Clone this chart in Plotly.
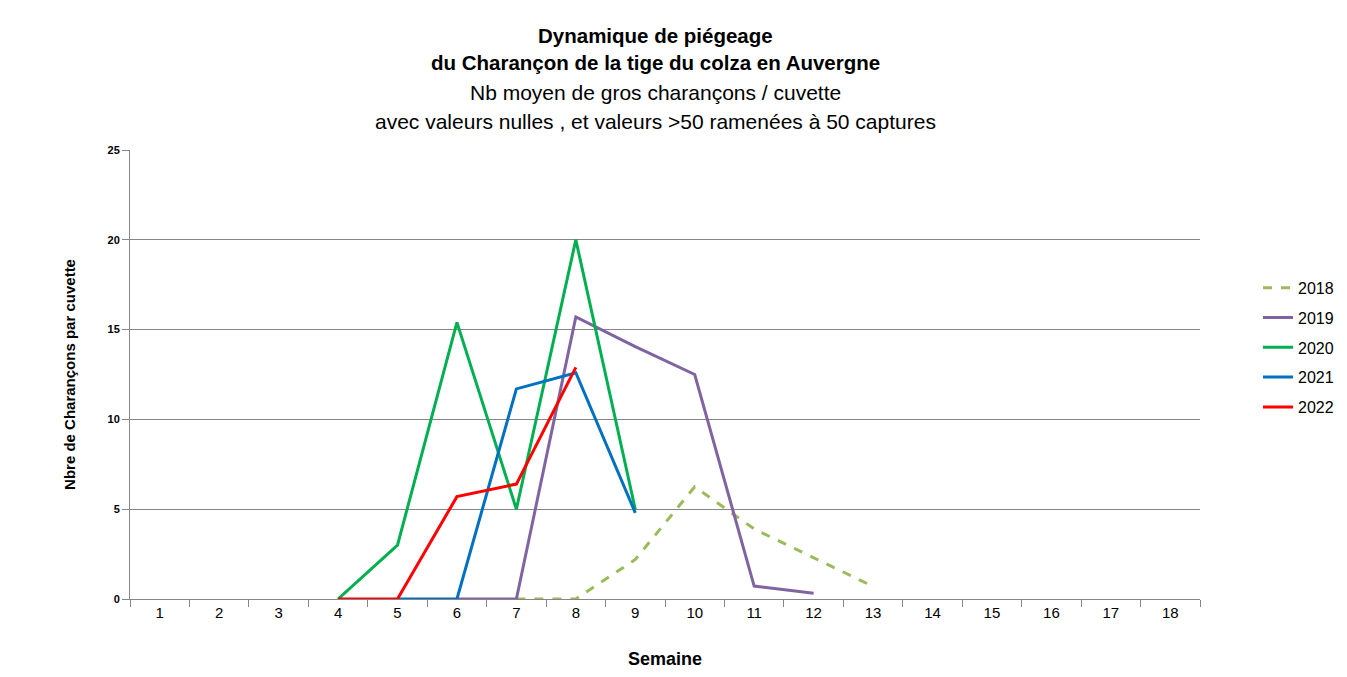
import plotly.graph_objects as go

weeks = list(range(1, 19))
tick_labels = [str(w) for w in weeks]

w2018 = [7, 8, 9, 10, 11, 12, 13]
v2018 = [0, 0, 2.2, 6.25, 3.9, 2.3, 0.7]

w2019 = [6, 7, 8, 9, 10, 11, 12]
v2019 = [0, 0, 15.7, 14.05, 12.5, 0.72, 0.32]

w2020 = [4, 5, 6, 7, 8, 9]
v2020 = [0, 3.0, 15.4, 5.0, 20.0, 5.0]

w2021 = [5, 6, 7, 8, 9]
v2021 = [0, 0, 11.7, 12.6, 4.8]

w2022 = [4, 5, 6, 7, 8]
v2022 = [0, 0, 5.7, 6.4, 12.9]

series = [
    ("2018", w2018, v2018, "#9BBB59", "dash"),
    ("2019", w2019, v2019, "#8064A2", "solid"),
    ("2020", w2020, v2020, "#00B050", "solid"),
    ("2021", w2021, v2021, "#0070C0", "solid"),
    ("2022", w2022, v2022, "#FF0000", "solid"),
]

FONT = "Liberation Sans"

fig = go.Figure()
for name, xs, ys, col, dash in series:
    fig.add_trace(go.Scatter(
        x=xs, y=ys, name=name, mode="lines",
        line=dict(color=col, width=3, dash=dash),
        legendgroup=name,
    ))

# page is offset by the 8px default body margin
W, H = 1331, 661
L, T = 122, 142
PW, PH = 1070, 449

fig.update_layout(
    width=W, height=H,
    margin=dict(l=L, r=W - L - PW, t=T, b=H - T - PH, autoexpand=False),
    paper_bgcolor="white", plot_bgcolor="white",
    font=dict(family=FONT, color="black"),
    showlegend=True,
    legend=dict(x=(W - L) / PW, y=0.731, xanchor="right", yanchor="top",
                font=dict(size=16, family=FONT), tracegroupgap=6,
                bgcolor="rgba(0,0,0,0)"),
    xaxis=dict(
        range=[0.5, 18.5], tickvals=weeks, ticktext=tick_labels,
        ticks="", showgrid=False, zeroline=False, automargin=False,
        showline=True, linecolor="#868686", linewidth=1,
        tickfont=dict(size=15, family=FONT),
        minor=dict(tickvals=[w + 0.5 for w in range(0, 19)], ticks="outside",
                   ticklen=7, tickcolor="#868686", showgrid=False),
        title=dict(text="<b>Semaine</b>", font=dict(size=18, family=FONT), standoff=34),
    ),
    yaxis=dict(
        range=[0, 25], tickvals=[0, 5, 10, 15, 20, 25],
        tickfont=dict(size=11, family=FONT, weight="bold"),
        ticks="outside", ticklen=7, tickcolor="#868686",
        showgrid=True, gridcolor="#868686", gridwidth=1,
        zeroline=False, showline=True, linecolor="#868686", linewidth=1,
        automargin=False,
        title=dict(text="<b>Nbre de Charançons par cuvette</b>",
                   font=dict(size=15, family=FONT), standoff=28),
    ),
)

title_lines = [
    ("<b>Dynamique de piégeage</b>", 35, 20.5),
    ("<b>du Charançon de la tige du colza en Auvergne</b>", 63, 20.5),
    ("Nb moyen de gros charançons / cuvette", 92, 21),
    ("avec valeurs nulles , et valeurs >50 ramenées à 50 captures", 121, 21),
]
for txt, ypx, sz in title_lines:
    fig.add_annotation(
        text=txt, xref="paper", yref="paper",
        x=(655 - 130) / PW, y=(599 - ypx) / PH,
        xanchor="center", yanchor="middle", showarrow=False,
        font=dict(size=sz, family=FONT, color="black"),
    )

fig.write_html("out.html")
